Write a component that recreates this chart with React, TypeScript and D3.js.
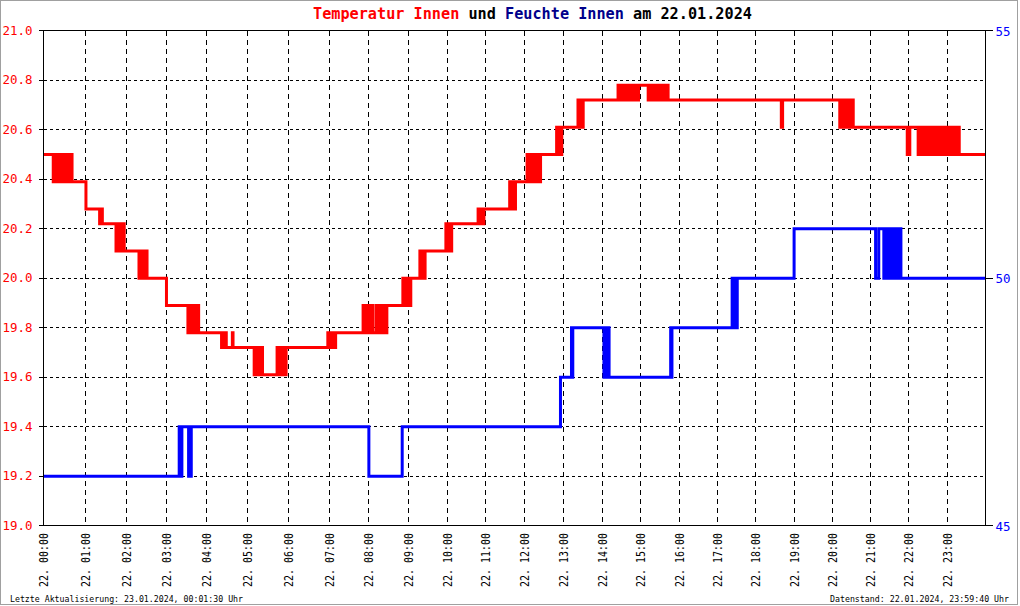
import React from "react";
import * as d3 from "d3";

const W = 1020;
const H = 606;

// recorded samples per hour (the x axis of the original is sample-indexed)
const samplesPerHour = [376, 369, 362, 362, 365, 375, 369, 345, 360, 351, 348, 348, 347, 351, 346, 347, 346, 345, 345, 342, 346, 342, 347, 346];

const hourTickLabels = [
  "22. 00:00", "22. 01:00", "22. 02:00", "22. 03:00", "22. 04:00", "22. 05:00",
  "22. 06:00", "22. 07:00", "22. 08:00", "22. 09:00", "22. 10:00", "22. 11:00",
  "22. 12:00", "22. 13:00", "22. 14:00", "22. 15:00", "22. 16:00", "22. 17:00",
  "22. 18:00", "22. 19:00", "22. 20:00", "22. 21:00", "22. 22:00", "22. 23:00",
];
const tempTicks = [19.0, 19.2, 19.4, 19.6, 19.8, 20.0, 20.2, 20.4, 20.6, 20.8, 21.0];
const humTicks = [45, 50, 55];

const titleParts: [string, string][] = [
  ["Temperatur Innen", "#ff0000"],
  [" und ", "#000000"],
  ["Feuchte Innen", "#00008b"],
  [" am 22.01.2024", "#000000"],
];
const footerLeft = "Letzte Aktualisierung: 23.01.2024, 00:01:30 Uhr";
const footerRight = "Datenstand: 22.01.2024, 23:59:40 Uhr";

const temperature: [string, number][] = [
  ["00:00", 20.50],
  ["00:14", 20.39], ["00:16", 20.50], ["00:18", 20.39], ["00:20", 20.50], ["00:22", 20.39], ["00:24", 20.50],
  ["00:26", 20.39], ["00:28", 20.50], ["00:30", 20.39], ["00:32", 20.50], ["00:34", 20.39], ["00:36", 20.50],
  ["00:38", 20.39], ["00:40", 20.50], ["00:41", 20.39],
  ["01:01", 20.28],
  ["01:21", 20.22], ["01:23", 20.28], ["01:25", 20.22],
  ["01:45", 20.11], ["01:47", 20.22], ["01:49", 20.11], ["01:51", 20.22], ["01:53", 20.11], ["01:55", 20.22], ["01:57", 20.11],
  ["02:19", 20.00], ["02:21", 20.11], ["02:23", 20.00], ["02:25", 20.11], ["02:27", 20.00], ["02:29", 20.11], ["02:31", 20.00],
  ["03:00", 19.89],
  ["03:32", 19.78], ["03:34", 19.89], ["03:36", 19.78], ["03:38", 19.89], ["03:40", 19.78], ["03:42", 19.89],
  ["03:45", 19.78], ["03:47", 19.89], ["03:48", 19.78],
  ["04:22", 19.72], ["04:24", 19.78], ["04:26", 19.72], ["04:28", 19.78], ["04:29", 19.72],
  ["04:38", 19.78], ["04:39", 19.72],
  ["05:10", 19.61], ["05:12", 19.72], ["05:14", 19.61], ["05:16", 19.72], ["05:18", 19.61], ["05:20", 19.72], ["05:22", 19.61],
  ["05:43", 19.72], ["05:44", 19.61], ["05:46", 19.72], ["05:48", 19.61], ["05:49", 19.72], ["05:52", 19.61],
  ["05:53", 19.72], ["05:55", 19.61], ["05:56", 19.72],
  ["06:57", 19.78], ["06:59", 19.72], ["07:01", 19.78], ["07:03", 19.72], ["07:05", 19.78], ["07:07", 19.72], ["07:09", 19.78],
  ["07:52", 19.89], ["07:54", 19.78], ["07:56", 19.89], ["07:58", 19.78], ["08:00", 19.89], ["08:02", 19.78],
  ["08:04", 19.89], ["08:07", 19.78],
  ["08:12", 19.89], ["08:14", 19.78], ["08:16", 19.89], ["08:18", 19.78], ["08:20", 19.89], ["08:22", 19.78],
  ["08:24", 19.89], ["08:26", 19.78], ["08:28", 19.89],
  ["08:52", 20.00], ["08:54", 19.89], ["08:56", 20.00], ["08:58", 19.89], ["09:00", 20.00], ["09:02", 19.89], ["09:04", 20.00],
  ["09:18", 20.11], ["09:20", 20.00], ["09:22", 20.11], ["09:24", 20.00], ["09:26", 20.11],
  ["09:58", 20.22], ["10:00", 20.11], ["10:02", 20.22], ["10:04", 20.11], ["10:07", 20.22],
  ["10:48", 20.28], ["10:50", 20.22], ["10:52", 20.28], ["10:54", 20.22], ["10:57", 20.28],
  ["11:37", 20.39], ["11:39", 20.28], ["11:41", 20.39], ["11:43", 20.28], ["11:46", 20.39],
  ["12:04", 20.50], ["12:06", 20.39], ["12:08", 20.50], ["12:10", 20.39], ["12:12", 20.50], ["12:14", 20.39],
  ["12:16", 20.50], ["12:18", 20.39], ["12:20", 20.50], ["12:22", 20.39], ["12:25", 20.50],
  ["12:50", 20.61], ["12:52", 20.50], ["12:54", 20.61], ["12:56", 20.50], ["12:58", 20.61],
  ["13:23", 20.72], ["13:25", 20.61], ["13:27", 20.72], ["13:29", 20.61], ["13:31", 20.72],
  ["14:25", 20.78], ["14:27", 20.72], ["14:29", 20.78], ["14:31", 20.72], ["14:33", 20.78], ["14:35", 20.72],
  ["14:37", 20.78], ["14:39", 20.72], ["14:41", 20.78], ["14:43", 20.72], ["14:45", 20.78], ["14:47", 20.72],
  ["14:49", 20.78], ["14:51", 20.72], ["14:53", 20.78], ["14:55", 20.72], ["14:57", 20.78],
  ["15:12", 20.72], ["15:14", 20.78], ["15:16", 20.72], ["15:18", 20.78], ["15:20", 20.72], ["15:22", 20.78],
  ["15:24", 20.72], ["15:26", 20.78], ["15:28", 20.72], ["15:30", 20.78], ["15:32", 20.72], ["15:34", 20.78],
  ["15:36", 20.72], ["15:38", 20.78], ["15:40", 20.72], ["15:42", 20.78], ["15:43", 20.72],
  ["18:40", 20.61], ["18:42", 20.72],
  ["20:12", 20.61], ["20:14", 20.72], ["20:16", 20.61], ["20:18", 20.72], ["20:20", 20.61], ["20:22", 20.72],
  ["20:24", 20.61], ["20:26", 20.72], ["20:28", 20.61], ["20:31", 20.72], ["20:33", 20.61],
  ["21:58", 20.50], ["22:02", 20.61],
  ["22:15", 20.50], ["22:17", 20.61], ["22:19", 20.50], ["22:21", 20.61], ["22:23", 20.50], ["22:25", 20.61],
  ["22:27", 20.50], ["22:29", 20.61], ["22:31", 20.50], ["22:33", 20.61], ["22:35", 20.50], ["22:37", 20.61],
  ["22:39", 20.50], ["22:41", 20.61], ["22:43", 20.50], ["22:45", 20.61], ["22:47", 20.50], ["22:49", 20.61],
  ["22:51", 20.50], ["22:53", 20.61], ["22:55", 20.50], ["22:57", 20.61], ["22:59", 20.50], ["23:01", 20.61],
  ["23:03", 20.50], ["23:05", 20.61], ["23:07", 20.50], ["23:09", 20.61], ["23:11", 20.50], ["23:13", 20.61],
  ["23:15", 20.50], ["23:17", 20.61], ["23:19", 20.50],
  ["23:59:40", 20.50],
];

const humidity: [string, number][] = [
  ["00:00", 46],
  ["03:19", 47], ["03:20", 46], ["03:21", 47], ["03:22", 46], ["03:23", 47],
  ["03:33", 46], ["03:37", 47],
  ["08:01", 46], ["08:51", 47],
  ["12:56", 48],
  ["13:13", 49], ["13:14", 48], ["13:15", 49],
  ["14:03", 48], ["14:05", 49], ["14:07", 48], ["14:09", 49], ["14:11", 48],
  ["15:47", 49], ["15:48", 48], ["15:49", 49],
  ["17:23", 50], ["17:25", 49], ["17:27", 50], ["17:29", 49], ["17:31", 50],
  ["19:00", 51],
  ["21:08", 50], ["21:13", 51],
  ["21:21", 50], ["21:23", 51], ["21:25", 50], ["21:27", 51], ["21:29", 50], ["21:31", 51], ["21:33", 50],
  ["21:35", 51], ["21:37", 50], ["21:39", 51], ["21:41", 50], ["21:43", 51], ["21:45", 50], ["21:47", 51], ["21:48", 50],
  ["23:59:40", 50],
];

const toHours = (s: string) => {
  const p = s.split(":").map(Number);
  return p[0] + p[1] / 60 + (p[2] || 0) / 3600;
};

const MONO = "'DejaVu Sans Mono', 'Liberation Mono', monospace";

export default function App() {
  const x0 = 43.5, x1 = 985.5, yTop = 30.7, yBot = 525.7;
  const cum: number[] = [0];
  samplesPerHour.forEach((n, i) => cum.push(cum[i] + n));
  const total = cum[cum.length - 1];
  const x = d3.scaleLinear()
    .domain(d3.range(25))
    .range(cum.map((c) => x0 + ((x1 - x0) * c) / total));
  const yT = d3.scaleLinear().domain([19, 21]).range([yBot, yTop]);
  const yH = d3.scaleLinear().domain([45, 55]).range([yBot, yTop]);

  const tData = temperature.map(([t, v]) => ({ t: toHours(t), v }));
  const hData = humidity.map(([t, v]) => ({ t: toHours(t), v }));

  const lineT = d3.line<{ t: number; v: number }>().x((d) => x(d.t)).y((d) => yT(d.v)).curve(d3.curveStepAfter);
  const lineH = d3.line<{ t: number; v: number }>().x((d) => x(d.t)).y((d) => yH(d.v)).curve(d3.curveStepAfter);

  const px = (v: number) => Math.round(v) + 0.5;
  const left = px(x0 - 0.5), right = px(x1 - 0.5), top = px(yTop - 0.5), bottom = px(yBot - 0.5);

  return (
    <svg width={W} height={H} style={{ position: "absolute", left: 0, top: 0, background: "#fff" }}>
      <rect x={0.5} y={0.5} width={1017} height={604} fill="#fff" stroke="#a0a0a0" strokeWidth={1} />
      {/* title */}
      <text x={313} y={18.5} fontFamily={MONO} fontSize={15.2} fontWeight="bold">
        {titleParts.map(([s, c], i) => (
          <tspan key={i} fill={c} style={{ whiteSpace: "pre" }}>{s}</tspan>
        ))}
      </text>

      {/* grid */}
      <g stroke="#000" strokeWidth={1} shapeRendering="crispEdges">
        {tempTicks.slice(1, -1).map((v) => (
          <line key={"h" + v} x1={left} x2={right} y1={px(yT(v) - 0.5)} y2={px(yT(v) - 0.5)} strokeDasharray="3,3" />
        ))}
        {d3.range(1, 24).map((h) => (
          <line key={"v" + h} x1={px(x(h) - 0.5)} x2={px(x(h) - 0.5)} y1={top} y2={bottom} strokeDasharray="5,4" />
        ))}
      </g>

      {/* data */}
      <path d={lineH(hData) || ""} fill="none" stroke="#0000ff" strokeWidth={3} />
      <path d={lineT(tData) || ""} fill="none" stroke="#ff0000" strokeWidth={3} />

      {/* frame */}
      <g stroke="#000" strokeWidth={1} shapeRendering="crispEdges" fill="none">
        <line x1={left} x2={right} y1={top} y2={top} />
        <line x1={left} x2={right} y1={bottom} y2={bottom} />
        <line x1={left} x2={left} y1={top} y2={bottom} />
        <line x1={right} x2={right} y1={top} y2={bottom} />
        {tempTicks.map((v) => (
          <line key={"lt" + v} x1={left - 5} x2={left} y1={px(yT(v) - 0.5)} y2={px(yT(v) - 0.5)} />
        ))}
        {humTicks.map((v) => (
          <line key={"rt" + v} x1={right} x2={right + 7} y1={px(yH(v) - 0.5)} y2={px(yH(v) - 0.5)} />
        ))}
      </g>

      {/* left axis labels */}
      {tempTicks.map((v) => (
        <text key={"ll" + v} x={32.5} y={yT(v) + 4} textAnchor="end" fontFamily={MONO} fontSize={11.5}
          fill="#ff0000" textLength={30} lengthAdjust="spacingAndGlyphs">
          {v.toFixed(1)}
        </text>
      ))}
      {/* right axis labels */}
      {humTicks.map((v) => (
        <text key={"rl" + v} x={995.5} y={yH(v) + 5} fontFamily={MONO} fontSize={13}
          fill="#0000ff" textLength={15} lengthAdjust="spacingAndGlyphs">
          {String(v)}
        </text>
      ))}
      {/* x labels */}
      {hourTickLabels.map((s, i) => (
        <text key={"xl" + i} transform={`translate(${x(i) + 4.5},533) rotate(-90)`} textAnchor="end"
          fontFamily={MONO} fontSize={12} fill="#000" textLength={54} lengthAdjust="spacingAndGlyphs">
          {s}
        </text>
      ))}

      {/* footer */}
      <text x={10} y={602} fontFamily={MONO} fontSize={8.4} fill="#000" textLength={233} lengthAdjust="spacingAndGlyphs">
        {footerLeft}
      </text>
      <text x={1009} y={602} textAnchor="end" fontFamily={MONO} fontSize={8.4} fill="#000" textLength={179} lengthAdjust="spacingAndGlyphs">
        {footerRight}
      </text>
    </svg>
  );
}
